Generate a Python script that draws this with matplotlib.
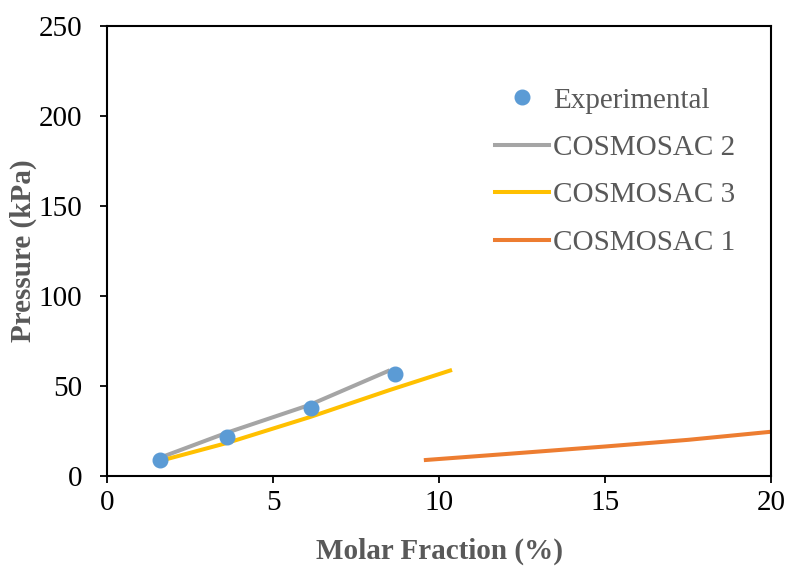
import matplotlib.pyplot as plt

# Experimental points
exp_x = [1.6, 3.6, 6.15, 8.68]
exp_y = [9.0, 21.8, 37.8, 56.6]

# COSMOSAC 2 (gray)
c2_x = [1.57, 3.6, 6.1, 8.46]
c2_y = [10.0, 24.0, 39.5, 58.3]

# COSMOSAC 3 (yellow)
c3_x = [1.8, 3.6, 6.1, 8.5, 10.33]
c3_y = [9.4, 18.3, 32.7, 47.7, 58.6]

# COSMOSAC 1 (orange)
c1_x = [9.6, 12.0, 15.0, 17.5, 20.0]
c1_y = [8.9, 12.2, 16.4, 20.1, 24.6]

plt.rcParams["font.family"] = ["Liberation Serif", "DejaVu Serif"]
gray_txt = "#595959"

fig = plt.figure(figsize=(7.87, 5.66), dpi=100)
ax = fig.add_axes([0.136, 0.159, 0.844, 0.795])

ax.plot(exp_x, exp_y, "o", color="#5B9BD5", markersize=10.5, label="Experimental", zorder=4)
ax.plot(c2_x, c2_y, color="#A5A5A5", lw=2.9, label="COSMOSAC 2")
ax.plot(c3_x, c3_y, color="#FFC000", lw=2.9, label="COSMOSAC 3")
ax.plot(c1_x, c1_y, color="#ED7D31", lw=2.9, label="COSMOSAC 1")

ax.set_xlim(0, 20)
ax.set_ylim(0, 250)
ax.set_xticks([0, 5, 10, 15, 20])
ax.set_yticks([0, 50, 100, 150, 200, 250])
ax.tick_params(axis="both", labelsize=21, width=1.3, length=5, direction="out", colors="black")
ax.tick_params(axis="y", pad=13)
ax.tick_params(axis="x", pad=5)
for s in ax.spines.values():
    s.set_linewidth(1.5)

ax.set_xlabel("Molar Fraction (%)", fontsize=21, fontweight="bold", color=gray_txt, labelpad=16)
ax.set_ylabel("Pressure (kPa)", fontsize=21, fontweight="bold", color=gray_txt, labelpad=1)

leg = fig.legend(loc="upper left", bbox_to_anchor=(0.629, 0.846), frameon=False,
                 fontsize=21, handlelength=1.86, handletextpad=0.14,
                 labelspacing=0.72, borderpad=0, borderaxespad=0)
for t in leg.get_texts():
    t.set_color(gray_txt)

fig.savefig("out.png", dpi=100)
